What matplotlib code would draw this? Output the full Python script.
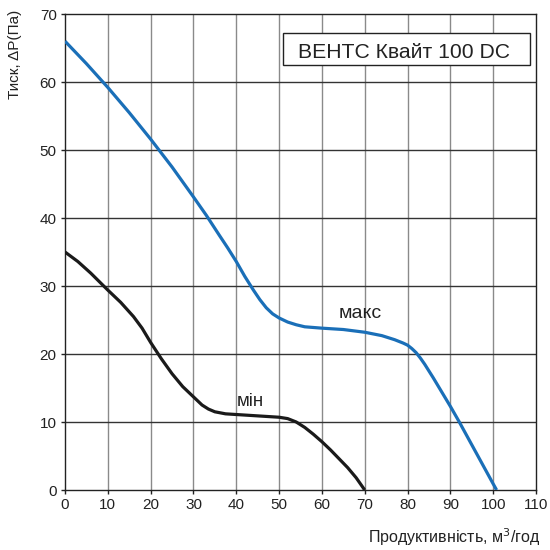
import matplotlib
matplotlib.use("Agg")
import matplotlib.pyplot as plt
from matplotlib.patches import Rectangle

plt.rcParams["font.family"] = ["Liberation Sans", "DejaVu Sans"]

# max speed curve
max_x = [0, 5, 10, 15, 20, 25, 30, 33, 36, 38, 40, 42, 44, 45.5, 47, 48.5,
         50, 52, 54, 56, 60, 65, 70, 74, 77, 79, 80, 81, 82, 83, 84, 85, 86,
         88, 90, 92, 94, 96, 98, 100, 100.8]
max_y = [66.0, 62.7, 59.2, 55.5, 51.6, 47.5, 43.1, 40.4, 37.5, 35.6, 33.6,
         31.4, 29.4, 28.0, 26.8, 25.9, 25.3, 24.7, 24.3, 24.0, 23.8, 23.6,
         23.2, 22.7, 22.1, 21.6, 21.3, 20.8, 20.2, 19.4, 18.5, 17.5, 16.5,
         14.4, 12.3, 10.1, 7.8, 5.5, 3.2, 0.9, 0.0]

# min speed curve
min_x = [0, 3, 6, 10, 13, 16, 18, 20, 22.5, 25, 27.5, 30, 32, 33.5, 35, 37.5,
         40, 45, 50, 52, 54, 56, 58, 60, 62, 64, 66, 68, 70]
min_y = [35.0, 33.6, 31.9, 29.4, 27.6, 25.5, 23.8, 21.7, 19.3, 17.1, 15.2,
         13.7, 12.5, 11.9, 11.5, 11.2, 11.1, 10.9, 10.7, 10.5, 10.0, 9.2,
         8.2, 7.1, 5.9, 4.6, 3.3, 1.8, 0.0]

x_ticks = list(range(0, 111, 10))
y_ticks = list(range(0, 71, 10))

fig = plt.figure(figsize=(5.5, 5.5), dpi=100)
ax = fig.add_axes([65 / 550, 60 / 550, 471 / 550, 476 / 550])

for xt in x_ticks[1:-1]:
    ax.axvline(xt, color="#8a8a8a", lw=1.0, zorder=1)
for yt in y_ticks[1:-1]:
    ax.axhline(yt, color="#333333", lw=1.0, zorder=1)

ax.plot(max_x, max_y, color="#1a6fb8", lw=2.3, zorder=3,
        solid_capstyle="butt", solid_joinstyle="round")
ax.plot(min_x, min_y, color="#1a1a1a", lw=2.3, zorder=3,
        solid_capstyle="butt", solid_joinstyle="round")

ax.set_xlim(0, 110)
ax.set_ylim(0, 70)
ax.set_xticks(x_ticks)
ax.set_yticks(y_ticks)
ax.tick_params(labelsize=11, length=3, width=1, color="#222222",
               labelcolor="#222222", pad=3)
for s in ax.spines.values():
    s.set_linewidth(1.0)
    s.set_color("#222222")

ax.text(69, 26.0, "макс", fontsize=14, ha="center", va="center",
        color="#222222", zorder=4)
ax.text(43.2, 13.0, "мін", fontsize=13.5, ha="center", va="center",
        color="#222222", zorder=4)

# title box
ax.add_patch(Rectangle((50.9, 62.5), 57.7, 4.7, fc="white", ec="#222222",
                       lw=1.0, zorder=5))
ax.text(79.2, 63.5, "ВЕНТС Квайт 100 DC", fontsize=15.2, ha="center",
        va="baseline", color="#222222", zorder=6)

fig.text(15 / 550, 1 - 10 / 550, "Тиск, ΔP(Па)", rotation=90, fontsize=11,
         ha="center", va="top", color="#222222")
fig.text(540 / 550, 1 - 537 / 550, "Продуктивність, м$^3$/год", fontsize=11.5,
         ha="right", va="center", color="#222222")

fig.savefig("out.png", dpi=100)
plt.close(fig)
